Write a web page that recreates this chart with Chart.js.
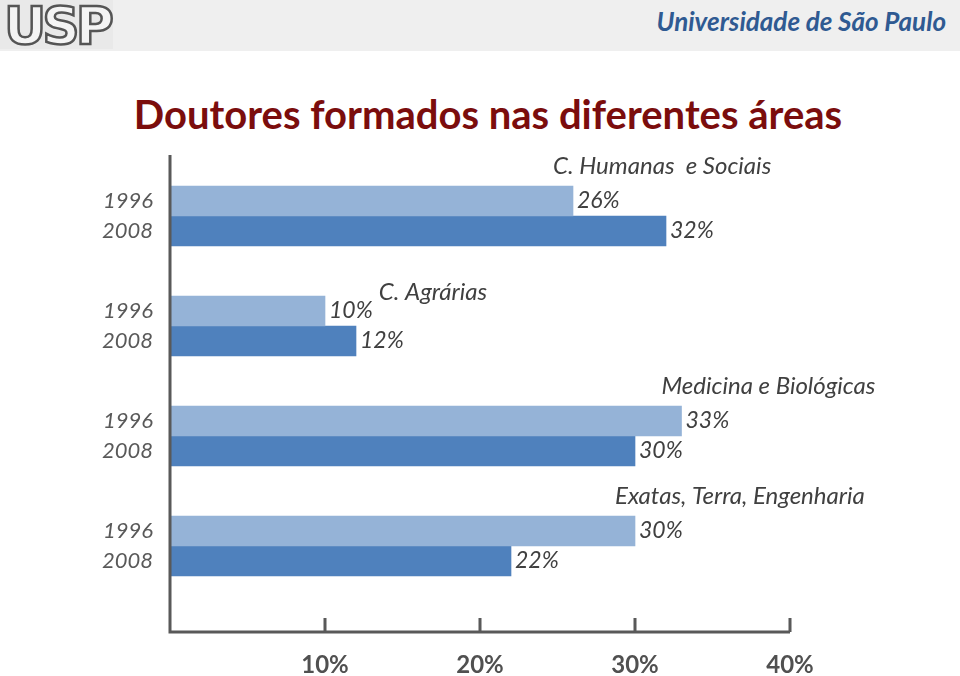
<!DOCTYPE html>
<html>
<head>
<meta charset="utf-8">
<script src="https://cdn.jsdelivr.net/npm/chart.js@4.4.0/dist/chart.umd.min.js"></script>
<style>
  html, body { margin: 0; padding: 0; background: #fff; overflow: hidden; }
  #page { position: relative; width: 960px; height: 676px; }
  #header { position: absolute; left: 0; top: 0; width: 960px; height: 51px; background: #efefef; }
  #logo { position: absolute; left: 0; top: 0; }
  #uni { position: absolute; right: 14px; top: 5px; font: italic bold 26px Lato, sans-serif; color: #2f5a92; }
  #title { position: absolute; left: 0; width: 976px; top: 90px; text-align: center;
           font: bold 40px Lato, sans-serif; color: #7b0d0d; }
  #wrap { position: absolute; left: 0; top: 0; width: 960px; height: 676px; }
</style>
</head>
<body>
<div id="page">
  <div id="header">
    <svg id="logo" width="115" height="51">
      <rect x="0" y="0" width="113" height="49" fill="#e9e9e9"/>
      <text x="57" y="44" text-anchor="middle" font-family="DejaVu Sans" font-weight="bold"
            font-size="52" letter-spacing="-4" fill="#f4f4f4" stroke="#555" stroke-width="2.5">USP</text>
    </svg>
    <div id="uni">Universidade de São Paulo</div>
  </div>
  <div id="title">Doutores formados nas diferentes áreas</div>
  <div id="wrap"><canvas id="chart"></canvas></div>
</div>
<script>
const areas = ['C. Humanas  e Sociais', 'C. Agrárias', 'Medicina e Biológicas', 'Exatas, Terra, Engenharia'];
const years = ['1996', '2008'];
const values1996 = [26, 10, 33, 30];
const values2008 = [32, 12, 30, 22];
const xTicks = [10, 20, 30, 40];

const grey = '#595959';

// axis lines, year labels, value labels and area names
const annotations = {
  id: 'annotations',
  afterDatasetsDraw(chart) {
    const {ctx, chartArea} = chart;
    const x = chart.scales.x;
    const x0 = x.getPixelForValue(0);
    const axisY = chartArea.bottom + 31;

    ctx.save();
    ctx.strokeStyle = grey;
    ctx.lineWidth = 3;
    ctx.beginPath();
    ctx.moveTo(x0, chartArea.top - 6);
    ctx.lineTo(x0, axisY);
    ctx.lineTo(x.getPixelForValue(40), axisY);
    xTicks.forEach((t) => {
      const px = x.getPixelForValue(t);
      ctx.moveTo(px, axisY);
      ctx.lineTo(px, axisY - 14);
    });
    ctx.stroke();

    ctx.textBaseline = 'middle';
    chart.data.datasets.forEach((ds, d) => {
      const meta = chart.getDatasetMeta(d);
      meta.data.forEach((bar, i) => {
        ctx.font = 'italic 22px Lato, sans-serif';
        ctx.fillStyle = grey;
        ctx.textAlign = 'right';
        ctx.fillText(years[d], x0 - 17, bar.y);
        ctx.fillStyle = '#404040';
        ctx.textAlign = 'left';
        ctx.font = 'italic 23px Lato, sans-serif';
        ctx.fillText(ds.data[i] + '%', bar.x + 4, bar.y);
      });
    });

    // area names above the 1996 bar
    const meta96 = chart.getDatasetMeta(0);
    ctx.fillStyle = '#404040';
    ctx.textAlign = 'left';
    meta96.data.forEach((bar, i) => {
      const top = bar.y - bar.height / 2;
      if (values1996[i] < 15) {
        ctx.font = 'italic 23px Lato, sans-serif';
        const w = ctx.measureText(values1996[i] + '%').width;
        ctx.font = 'italic 24px Lato, sans-serif';
        ctx.fillText(areas[i], bar.x + 4 + w + 6, top - 4);
      } else {
        ctx.font = 'italic 24px Lato, sans-serif';
        ctx.fillText(areas[i], bar.x - 20, top - 20);
      }
    });
    ctx.restore();
  }
};

new Chart(document.getElementById('chart'), {
  type: 'bar',
  data: {
    labels: areas,
    datasets: [
      { label: years[0], data: values1996, backgroundColor: '#95b3d7', barThickness: 30 },
      { label: years[1], data: values2008, backgroundColor: '#4f81bd', barThickness: 30 }
    ]
  },
  options: {
    indexAxis: 'y',
    responsive: true,
    maintainAspectRatio: false,
    animation: false,
    layout: { padding: { left: 170, right: 170, top: 161, bottom: 0 } },
    plugins: { legend: { display: false }, tooltip: { enabled: false } },
    scales: {
      y: { display: false },
      x: {
        min: 0, max: 40,
        afterBuildTicks: (scale) => { scale.ticks = xTicks.map((v) => ({ value: v })); },
        afterFit: (scale) => { scale.height = 75; },
        grid: { display: false, drawTicks: false },
        border: { display: false },
        ticks: {
          padding: 50,
          color: '#505050',
          font: { family: 'Lato', size: 24, weight: 'bold' },
          callback: (v) => v + '%'
        }
      }
    }
  },
  plugins: [annotations]
});
</script>
</body>
</html>
